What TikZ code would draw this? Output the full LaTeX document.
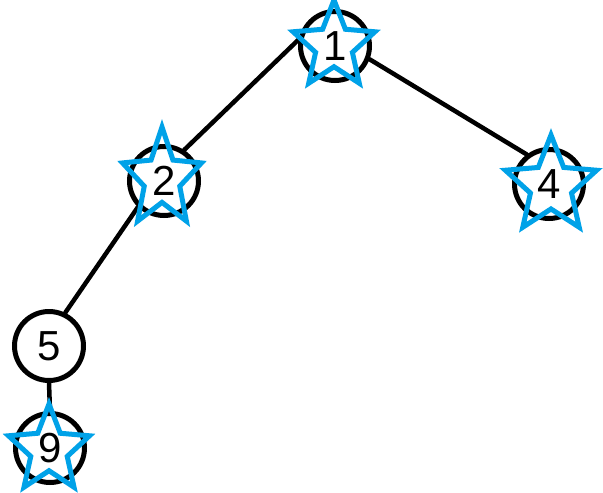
\documentclass[tikz,border=0pt]{standalone}
\usepackage{fontspec}
\setmainfont{Liberation Sans}
\definecolor{starblue}{HTML}{00A2E8}
\newcommand{\drawmystar}[4]{%
  \begin{scope}[shift={(#1,#2)}, xscale=#3, yscale=-#4]
    \draw[starline] (90:1) -- (126:0.45) -- (162:1) -- (198:0.45) -- (234:1)
      -- (270:0.45) -- (306:1) -- (342:0.45) -- (18:1) -- (54:0.45) -- cycle;
  \end{scope}}
\begin{document}
\begin{tikzpicture}[x=1pt,y=-1pt,
  treenode/.style={circle, draw=black, line width=5pt, fill=white,
    minimum size=69pt, inner sep=0pt, font=\fontsize{42}{42}\selectfont},
  edge/.style={draw=black, line width=4.5pt, line cap=round},
  starline/.style={draw=starblue, line width=5pt, line join=miter}]
  \fill[white] (0,0) rectangle (603,493);
  \useasboundingbox (0,0) rectangle (603,493);
  \node[treenode] (n1) at (335,46) {1};
  \node[treenode] (n2) at (164,181) {2};
  \node[treenode] (n4) at (549,184) {4};
  \node[treenode] (n5) at (49,346) {5};
  \node[treenode] (n9) at (50,448) {9};
  \draw[edge] (n1.170) -- (n2.57);
  \draw[edge] (n1.-21) -- (n4.127);
  \draw[edge] (n2.225) -- (n5.64);
  \draw[edge] (n5.-90) -- (n9.90);
  \drawmystar{334}{46}{43}{46}
  \drawmystar{162}{179}{41.5}{52}
  \drawmystar{551}{186}{48}{51}
  \drawmystar{49}{450}{42.6}{46}
\end{tikzpicture}
\end{document}
